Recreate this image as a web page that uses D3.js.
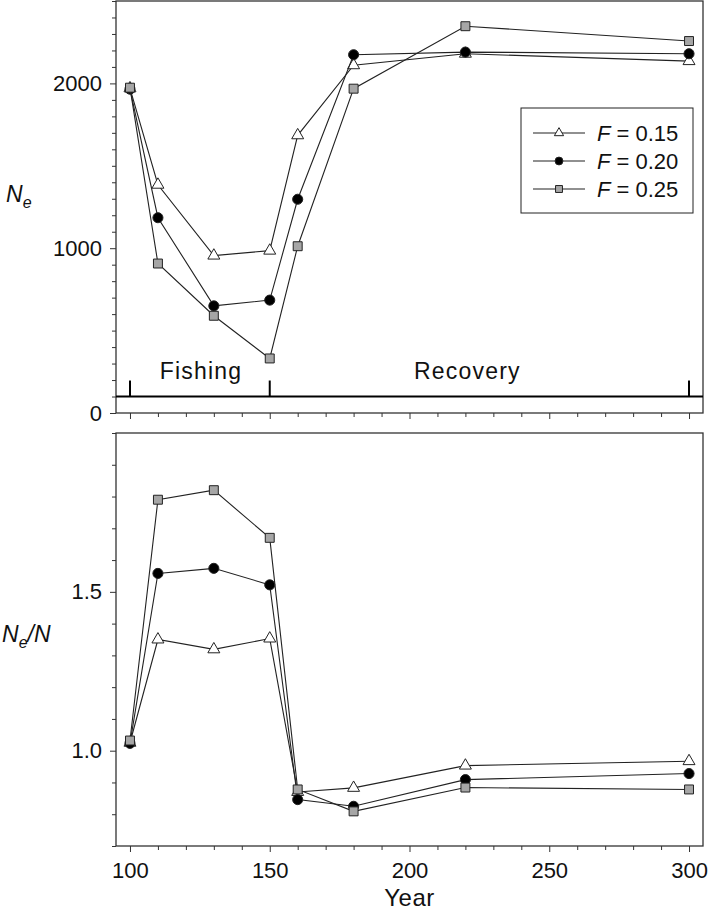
<!DOCTYPE html>
<html lang="en">
<head>
    <meta charset="UTF-8">
    <title>Ne and Ne/N over time</title>
    <script src="https://d3js.org/d3.v7.min.js"></script>
    <style>
        body { margin: 0; background: #fff; }
        svg { font-family: "Liberation Sans", Arial, sans-serif; }
    </style>
</head>
<body>
    <div id="chart"></div>
    <script>
        // data
        const years = [100, 110, 130, 150, 160, 180, 220, 300];
        const seriesNames = ['0.15', '0.20', '0.25'];

        const ne015 = [1970, 1385, 955, 985, 1685, 2110, 2180, 2135];
        const ne020 = [1965, 1185, 650, 685, 1297, 2174, 2190, 2180];
        const ne025 = [1974, 907, 590, 331, 1012, 1968, 2347, 2257];

        const ratio015 = [1.025, 1.350, 1.319, 1.353, 0.870, 0.883, 0.953, 0.967];
        const ratio020 = [1.023, 1.558, 1.574, 1.522, 0.846, 0.825, 0.909, 0.928];
        const ratio025 = [1.032, 1.790, 1.820, 1.670, 0.878, 0.809, 0.884, 0.878];

        const phases = [
            { label: 'Fishing', mid: 125.4 },
            { label: 'Recovery', mid: 220.7 }
        ];
        const phaseTicks = [100, 150, 300];

        const width = 709, height = 913;
        const svg = d3.select('#chart').append('svg')
            .attr('width', width)
            .attr('height', height);

        const x = d3.scaleLinear().domain([95, 305]).range([116, 703]);

        const styles = [
            { type: d3.symbolTriangle, size: 62, fill: '#fff' },
            { type: d3.symbolCircle, size: 80, fill: '#000' },
            { type: d3.symbolSquare, size: 80, fill: '#a6a6a6' }
        ];

        function drawPanel(y0, y1, yDomain, majors, minorStep, fmt, series, showXLabels) {
            const y = d3.scaleLinear().domain(yDomain).range([y1, y0]);
            const g = svg.append('g');

            // frame
            g.append('rect')
                .attr('x', x.range()[0]).attr('y', y0)
                .attr('width', x.range()[1] - x.range()[0])
                .attr('height', y1 - y0)
                .attr('fill', 'none').attr('stroke', '#333').attr('stroke-width', 1.3);

            // y axis
            const minors = d3.range(yDomain[0], yDomain[1] + 1e-9, minorStep)
                .filter(v => !majors.some(m => Math.abs(m - v) < 1e-9));
            g.append('g')
                .attr('transform', `translate(${x.range()[0]},0)`)
                .call(d3.axisLeft(y).tickValues(minors).tickSize(4).tickFormat(''))
                .call(a => a.select('.domain').remove())
                .call(a => a.selectAll('line').attr('stroke', '#333'));
            g.append('g')
                .attr('transform', `translate(${x.range()[0]},0)`)
                .call(d3.axisLeft(y).tickValues(majors).tickSize(6).tickPadding(8).tickFormat(fmt))
                .call(a => a.select('.domain').remove())
                .call(a => a.selectAll('line').attr('stroke', '#333'))
                .call(a => a.selectAll('text').attr('font-size', 22).attr('fill', '#111'));

            // x axis
            const xMinors = d3.range(100, 301, 10).filter(v => v % 50 !== 0);
            g.append('g')
                .attr('transform', `translate(0,${y1})`)
                .call(d3.axisBottom(x).tickValues(xMinors).tickSize(4).tickFormat(''))
                .call(a => a.select('.domain').remove())
                .call(a => a.selectAll('line').attr('stroke', '#333'));
            g.append('g')
                .attr('transform', `translate(0,${y1})`)
                .call(d3.axisBottom(x).tickValues([100, 150, 200, 250, 300]).tickSize(6).tickPadding(10)
                    .tickFormat(showXLabels ? d3.format('d') : ''))
                .call(a => a.select('.domain').remove())
                .call(a => a.selectAll('line').attr('stroke', '#333'))
                .call(a => a.selectAll('text').attr('font-size', 22).attr('fill', '#111'));

            const line = d3.line().x((d, i) => x(years[i])).y(d => y(d));
            series.forEach((vals, s) => {
                g.append('path')
                    .attr('d', line(vals))
                    .attr('fill', 'none').attr('stroke', '#222').attr('stroke-width', 1.1);
                g.selectAll(null).data(vals).enter().append('path')
                    .attr('transform', (d, i) => `translate(${x(years[i])},${y(d)})`)
                    .attr('d', d3.symbol().type(styles[s].type).size(styles[s].size))
                    .attr('fill', styles[s].fill)
                    .attr('stroke', '#222').attr('stroke-width', 1);
            });
            return { g, y };
        }

        // top panel: Ne
        const nePanel = drawPanel(1, 413, [0, 2500], [0, 1000, 2000], 100, d3.format('d'),
            [ne015, ne020, ne025], false);

        // phase bar
        const barY = nePanel.y(100);
        nePanel.g.append('line')
            .attr('x1', x.range()[0]).attr('x2', x.range()[1])
            .attr('y1', barY).attr('y2', barY)
            .attr('stroke', '#000').attr('stroke-width', 2);
        nePanel.g.selectAll(null).data(phaseTicks).enter().append('line')
            .attr('x1', d => x(d)).attr('x2', d => x(d))
            .attr('y1', barY).attr('y2', barY - 16)
            .attr('stroke', '#000').attr('stroke-width', 2);
        nePanel.g.selectAll(null).data(phases).enter().append('text')
            .attr('x', d => x(d.mid))
            .attr('y', barY - 18)
            .attr('text-anchor', 'middle')
            .attr('font-size', 23).attr('letter-spacing', 1.2).attr('fill', '#111')
            .text(d => d.label);

        // top y label
        const lab1 = svg.append('text').attr('x', 6).attr('y', 202).attr('font-size', 23).attr('fill', '#111');
        lab1.append('tspan').attr('font-style', 'italic').text('N');
        lab1.append('tspan').attr('font-style', 'italic').attr('font-size', 16).attr('dy', 6).text('e');

        // legend
        const lg = svg.append('g');
        lg.append('rect').attr('x', 521).attr('y', 108).attr('width', 172).attr('height', 105)
            .attr('fill', '#fff').attr('stroke', '#222').attr('stroke-width', 1);
        seriesNames.forEach((name, s) => {
            const ly = 133 + s * 28;
            lg.append('line').attr('x1', 533).attr('x2', 585).attr('y1', ly).attr('y2', ly)
                .attr('stroke', '#222').attr('stroke-width', 1.1);
            lg.append('path')
                .attr('transform', `translate(559,${ly})`)
                .attr('d', d3.symbol().type(styles[s].type).size(styles[s].size * 0.6))
                .attr('fill', styles[s].fill).attr('stroke', '#222').attr('stroke-width', 1);
            const t = lg.append('text').attr('x', 597).attr('y', ly + 8)
                .attr('font-size', 22).attr('fill', '#111');
            t.append('tspan').attr('font-style', 'italic').text('F');
            t.append('tspan').text(' = ' + name);
        });

        // bottom panel: Ne/N
        drawPanel(433, 846, [0.7, 2.0], [1.0, 1.5], 0.1, d3.format('.1f'),
            [ratio015, ratio020, ratio025], true);

        const lab2 = svg.append('text').attr('x', 2).attr('y', 642).attr('font-size', 23).attr('fill', '#111');
        lab2.append('tspan').attr('font-style', 'italic').text('N');
        lab2.append('tspan').attr('font-style', 'italic').attr('font-size', 16).attr('dy', 6).text('e');
        lab2.append('tspan').attr('font-style', 'italic').attr('dy', -6).text('/N');

        svg.append('text').attr('x', x(200)).attr('y', 906)
            .attr('text-anchor', 'middle').attr('font-size', 24).attr('letter-spacing', 0.5)
            .attr('fill', '#111')
            .text('Year');
    </script>
</body>
</html>
